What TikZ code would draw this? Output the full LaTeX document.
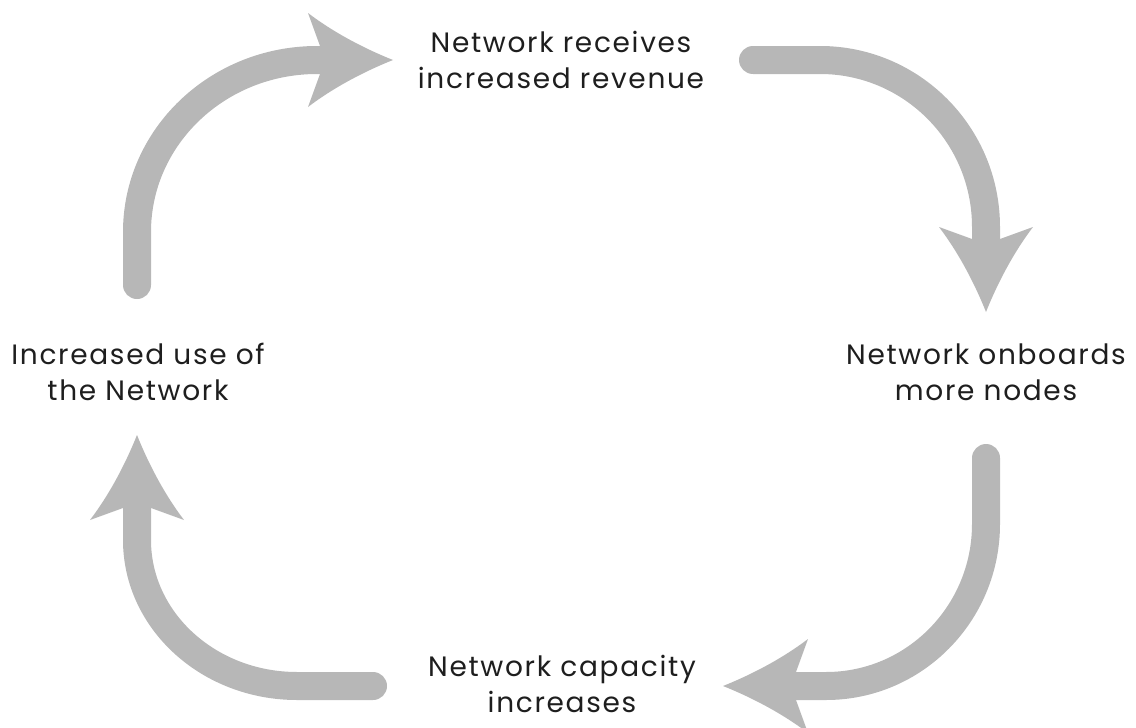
\documentclass[tikz,border=0pt]{standalone}
\usepackage{fontspec}
\setmainfont{Poppins}[LetterSpace=6]
\definecolor{arrowgray}{HTML}{B7B7B7}
\definecolor{txt}{HTML}{1E1E1E}
\tikzset{
  flow/.style={draw=arrowgray, line width=28pt, line cap=round},
  lbl/.style={text=txt, align=center, font=\fontsize{28}{36}\selectfont, inner sep=0pt},
  ahead/.pic={\fill[arrowgray] (0,0) .. controls (-30,-12) and (-60,-28) .. (-85,-47) -- (-73,-14) -- (-73,14) -- (-85,47) .. controls (-60,28) and (-30,12) .. (0,0) -- cycle;}
}
\begin{document}
\begin{tikzpicture}[x=1pt,y=-1pt]
\useasboundingbox (0,0) rectangle (1136,728);
% labels
\node[lbl] (top) at (561,60) {Network receives\\increased revenue};
\node[lbl] (right) at (986,372) {Network onboards\\more nodes};
\node[lbl] (bottom) at (562,684) {Network capacity\\increases};
\node[lbl] (left) at (138,372) {Increased use of\\the Network};
% coordinates
\coordinate (s1) at (137,285);
\coordinate (t1) at (393,60);
\coordinate (s2) at (753,60);
\coordinate (t2) at (986,312);
\coordinate (s3) at (986,458);
\coordinate (t3) at (723,686);
\coordinate (s4) at (373,686);
\coordinate (t4) at (137,435);
% arrow 1 (left -> top)
\draw[flow] (s1) -- (137,232) arc[start angle=180, end angle=270, x radius=180, y radius=172] -- (328,60);
\pic[rotate=0] at (t1) {ahead};
% arrow 2 (top -> right)
\draw[flow] (s2) -- (820,60) arc[start angle=-90, end angle=0, x radius=166, y radius=167] -- (986,245);
\pic[rotate=-90] at (t2) {ahead};
% arrow 3 (right -> bottom)
\draw[flow] (s3) -- (986,524) arc[start angle=0, end angle=90, x radius=160, y radius=162] -- (790,686);
\pic[rotate=180] at (t3) {ahead};
% arrow 4 (bottom -> left)
\draw[flow] (s4) -- (297,686) arc[start angle=90, end angle=180, x radius=160, y radius=146] -- (137,502);
\pic[rotate=90] at (t4) {ahead};
\end{tikzpicture}
\end{document}
